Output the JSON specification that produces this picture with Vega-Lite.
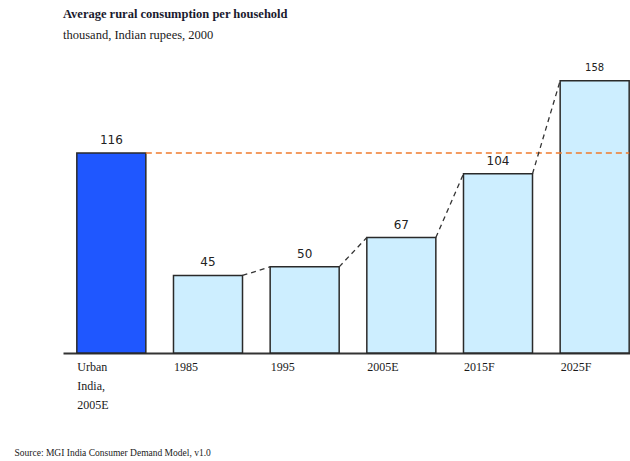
{
  "$schema": "https://vega.github.io/schema/vega-lite/v6.json",
  "autosize": {"type": "none"},
  "width": 567,
  "height": 293,
  "padding": {"left": 63, "top": 60, "right": 0, "bottom": 108},
  "background": "white",
  "title": {
    "text": "Average rural consumption per household",
    "subtitle": "thousand, Indian rupees, 2000",
    "anchor": "start",
    "frame": "group",
    "font": "Liberation Serif",
    "fontSize": 12.5,
    "fontWeight": "bold",
    "color": "#1a1a2e",
    "subtitleFont": "Liberation Serif",
    "subtitleFontSize": 12.5,
    "subtitleColor": "#1a1a1a",
    "subtitlePadding": 8,
    "offset": 19
  },
  "config": {"view": {"stroke": null}},
  "datasets": {
    "bars": [
      {"cat": "Urban India, 2005E", "value": 116, "group": "urban"},
      {"cat": "1985", "value": 45, "group": "rural"},
      {"cat": "1995", "value": 50, "group": "rural"},
      {"cat": "2005E", "value": 67, "group": "rural"},
      {"cat": "2015F", "value": 104, "group": "rural"},
      {"cat": "2025F", "value": 158, "group": "rural"}
    ],
    "links": [
      {"from": "1985", "to": "1995", "v1": 45, "v2": 50},
      {"from": "1995", "to": "2005E", "v1": 50, "v2": 67},
      {"from": "2005E", "to": "2015F", "v1": 67, "v2": 104},
      {"from": "2015F", "to": "2025F", "v1": 104, "v2": 158}
    ],
    "urban": [
      {"from": "Urban India, 2005E", "to": "2025F", "v": 116}
    ]
  },
  "encoding": {
    "x": {
      "field": "cat",
      "type": "nominal",
      "scale": {
        "domain": ["Urban India, 2005E", "1985", "1995", "2005E", "2015F", "2025F"],
        "range": [0, 580],
        "paddingInner": 0.286,
        "paddingOuter": 0.143
      },
      "axis": {
        "title": "Source: MGI India Consumer Demand Model, v1.0",
        "titleFont": "Liberation Serif",
        "titleFontSize": 9.5,
        "titleFontWeight": "normal",
        "titleColor": "#1a1a1a",
        "titleAnchor": "start",
        "titleAlign": "left",
        "titleBaseline": "alphabetic",
        "titleX": -49,
        "titleY": 102,
        "labelAngle": 0,
        "labelAlign": "left",
        "labelBaseline": "top",
        "labelOffset": -34,
        "labelPadding": 8,
        "labelFont": "Liberation Serif",
        "labelFontSize": 12,
        "labelColor": "#1a1a1a",
        "labelLineHeight": 19,
        "labelExpr": "datum.label == 'Urban India, 2005E' ? ['Urban', 'India,', '2005E'] : datum.label",
        "ticks": false,
        "domainColor": "#333333",
        "domainWidth": 2
      }
    }
  },
  "layer": [
    {
      "data": {"name": "bars"},
      "mark": {"type": "bar", "stroke": "#2a2a2a", "strokeWidth": 1.5},
      "encoding": {
        "y": {"field": "value", "type": "quantitative", "scale": {"domain": [0, 170], "nice": false}, "axis": null},
        "color": {
          "field": "group",
          "type": "nominal",
          "scale": {"domain": ["urban", "rural"], "range": ["#1f57ff", "#cdeeff"]},
          "legend": null
        }
      }
    },
    {
      "data": {"name": "bars"},
      "mark": {"type": "text", "font": "DejaVu Sans", "baseline": "middle", "dy": -13, "color": "#222222"},
      "encoding": {
        "y": {"field": "value", "type": "quantitative"},
        "text": {"field": "value", "type": "quantitative"},
        "size": {"condition": {"test": "datum.cat === '2025F'", "value": 10}, "value": 12}
      }
    },
    {
      "data": {"name": "urban"},
      "mark": {"type": "rule", "color": "#f07b2e", "strokeWidth": 1.5, "strokeDash": [6, 4]},
      "encoding": {
        "x": {"field": "from", "type": "nominal", "bandPosition": 1},
        "x2": {"field": "to", "bandPosition": 1},
        "y": {"field": "v", "type": "quantitative"}
      }
    },
    {
      "data": {"name": "links"},
      "mark": {"type": "rule", "color": "#333333", "strokeWidth": 1.3, "strokeDash": [5, 4]},
      "encoding": {
        "x": {"field": "from", "type": "nominal", "bandPosition": 1},
        "x2": {"field": "to", "bandPosition": 0},
        "y": {"field": "v1", "type": "quantitative"},
        "y2": {"field": "v2"}
      }
    }
  ]
}
